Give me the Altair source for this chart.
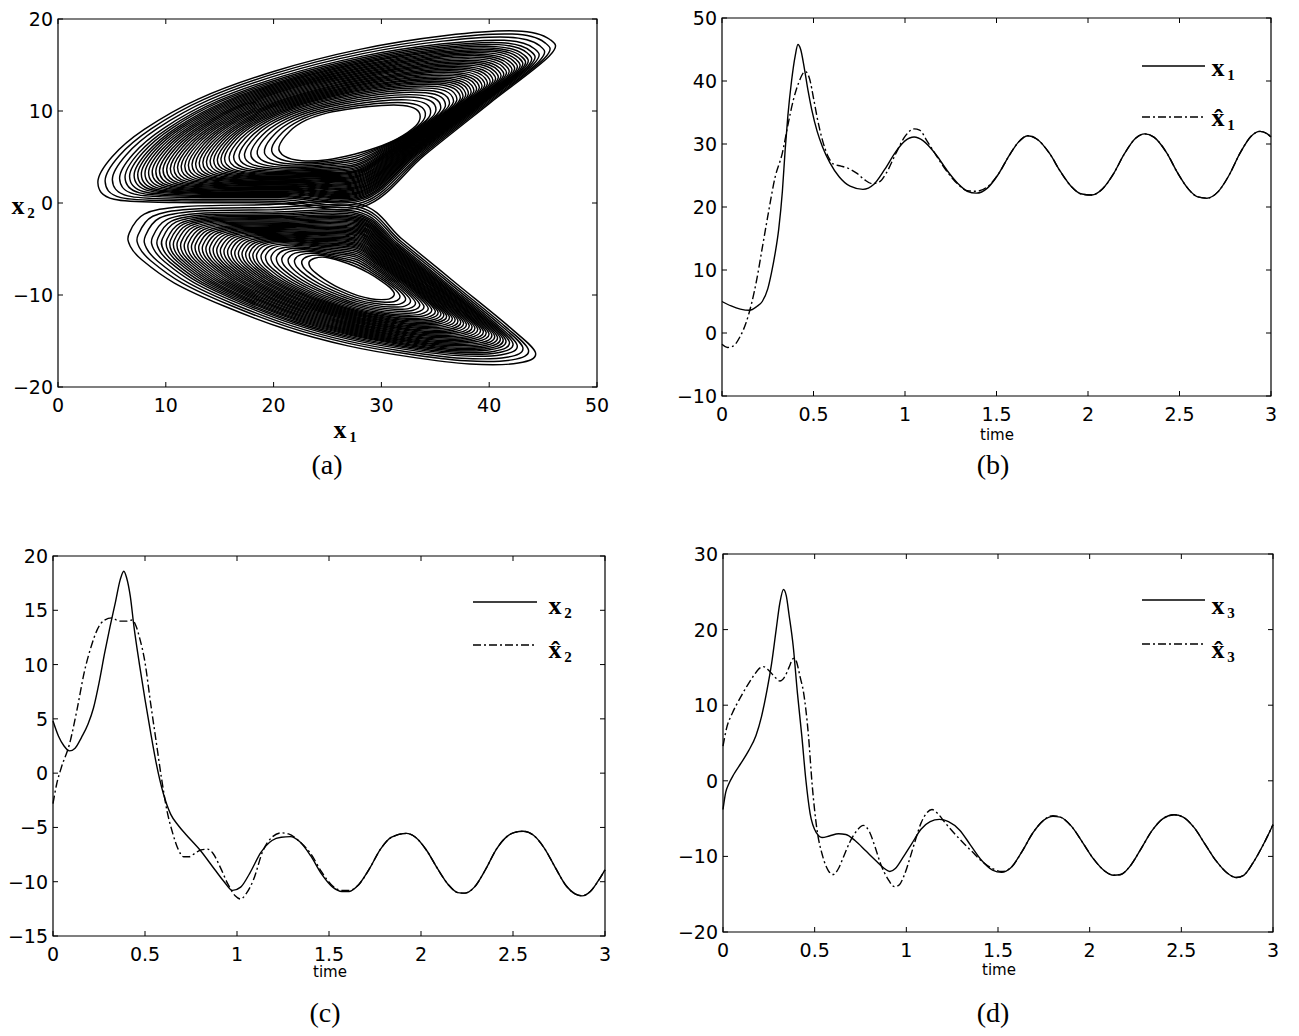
import altair as alt
import pandas as pd

# ---------------- data ----------------
# (a) phase portrait x1-x2: outer contour and inner (hole) contour of each lobe,
#     listed in the same order; the loops of the band lie between them
UP_OUT_X1 = [3.7, 5.0, 8.0, 13.0, 20.0, 28.0, 36.0, 42.5, 45.6, 45.6, 40.0, 34.0, 28.3, 20.0, 11.0, 5.2]
UP_OUT_X2 = [2.2, 5.0, 8.0, 11.3, 14.3, 16.7, 18.2, 18.7, 17.8, 16.0, 10.8, 5.2, -0.4, 0.0, 0.05, 0.4]
UP_IN_X1 = [20.5, 21.5, 23.0, 25.0, 27.5, 30.0, 32.0, 33.2, 33.6, 33.2, 31.5, 29.5, 27.5, 25.0, 22.6, 21.0]
UP_IN_X2 = [6.1, 7.8, 9.0, 9.8, 10.3, 10.6, 10.6, 10.2, 9.4, 8.4, 7.0, 6.0, 5.3, 4.7, 4.6, 5.1]
UP_LOOPS = [0.0, 0.04, 0.08, 0.12, 0.155, 0.19, 0.22, 0.25, 0.275, 0.30, 0.32, 0.34, 0.36, 0.38,
            0.40, 0.42, 0.44, 0.46, 0.48, 0.50, 0.52, 0.54, 0.56, 0.58, 0.60, 0.62, 0.64, 0.66, 0.68,
            0.70, 0.72, 0.74, 0.76, 0.78, 0.80, 0.825, 0.85, 0.88, 0.92, 0.96, 1.0]

LO_OUT_X1 = [6.6, 8.0, 11.6, 19.0, 27.9, 32.0, 37.0, 42.0, 44.3, 42.7, 38.2, 32.5, 26.8, 21.1, 15.4, 10.8, 7.8, 6.7]
LO_OUT_X2 = [-3.3, -1.2, -0.4, -0.2, -0.1, -4.0, -8.8, -13.6, -16.3, -17.4, -17.5, -16.7, -15.5, -13.7, -11.2, -8.7, -6.2, -4.7]
LO_IN_X1 = [23.3, 23.8, 24.8, 26.2, 27.6, 28.8, 29.9, 30.8, 31.2, 30.8, 30.0, 29.0, 27.9, 26.8, 25.7, 24.7, 23.9, 23.4]
LO_IN_X2 = [-6.4, -6.0, -5.9, -6.3, -6.9, -7.6, -8.4, -9.2, -9.9, -10.4, -10.5, -10.4, -10.1, -9.6, -9.0, -8.3, -7.6, -7.0]
LO_LOOPS = [0.0, 0.04, 0.08, 0.115, 0.15, 0.18, 0.21, 0.24, 0.265, 0.29, 0.31, 0.33, 0.35, 0.37,
            0.39, 0.41, 0.43, 0.45, 0.47, 0.49, 0.51, 0.53, 0.55, 0.57, 0.59, 0.61, 0.63, 0.65, 0.67,
            0.69, 0.71, 0.73, 0.75, 0.77, 0.79, 0.815, 0.84, 0.87, 0.91, 0.95, 1.0]

# (b) x1 and its estimate
T_X1 = [0.00, 0.05, 0.10, 0.15, 0.19, 0.22, 0.25, 0.27, 0.29, 0.31, 0.33, 0.345, 0.36, 0.38, 0.40,
        0.415, 0.43, 0.45, 0.47, 0.49, 0.52, 0.55, 0.59, 0.64, 0.70, 0.77, 0.83, 0.89, 0.95, 1.00,
        1.05, 1.10, 1.17, 1.23, 1.29, 1.34, 1.39, 1.45, 1.51, 1.57, 1.62, 1.67, 1.72, 1.79, 1.85,
        1.91, 1.96, 2.02, 2.08, 2.14, 2.20, 2.26, 2.31, 2.36, 2.43, 2.49, 2.55, 2.60, 2.65, 2.71,
        2.77, 2.83, 2.89, 2.94, 2.98, 3.00]
V_X1 = [5.0, 4.3, 3.8, 3.6, 4.2, 5.0, 7.0, 9.5, 12.6, 16.5, 22.5, 29.0, 34.5, 40.0, 44.0,
        45.8, 45.0, 42.0, 38.5, 35.5, 32.0, 29.5, 27.0, 24.8, 23.3, 22.8, 23.6, 26.0, 28.8, 30.5,
        31.1, 30.5, 28.3, 25.8, 23.7, 22.5, 22.2, 23.0, 25.2, 28.2, 30.3, 31.3, 30.8, 28.5, 25.6,
        23.2, 22.1, 21.9, 22.9, 25.3, 28.5, 30.9, 31.6, 31.1, 28.6, 25.4, 22.8, 21.6, 21.4, 22.4,
        25.0, 28.5, 31.2, 32.0, 31.6, 31.1]
T_XH1 = [0.00, 0.03, 0.06, 0.10, 0.13, 0.16, 0.19, 0.22, 0.25, 0.29, 0.33, 0.36, 0.39, 0.42, 0.455,
         0.48, 0.50, 0.52, 0.55, 0.58, 0.61, 0.65, 0.70, 0.74, 0.78, 0.82, 0.86, 0.90, 0.95, 1.00,
         1.05, 1.08, 1.12, 1.17, 1.23, 1.29, 1.34, 1.39, 1.45, 1.51, 1.57, 1.62, 1.67, 1.72, 1.79,
         1.85, 1.91, 1.96, 2.02, 2.08, 2.14, 2.20, 2.26, 2.31, 2.36, 2.43, 2.49, 2.55, 2.60, 2.65,
         2.71, 2.77, 2.83, 2.89, 2.94, 2.98, 3.00]
V_XH1 = [-1.8, -2.3, -2.1, -0.5, 1.5, 4.5, 8.5, 13.5, 18.5, 24.7, 28.6, 33.0, 37.0, 39.8, 41.5,
         40.2, 37.3, 34.2, 30.5, 28.0, 26.8, 26.5, 26.0, 25.3, 24.3, 23.7, 24.0, 25.5, 28.5, 31.2,
         32.4, 32.2, 30.5, 28.2, 25.6, 23.6, 22.6, 22.5, 23.2, 25.2, 28.2, 30.3, 31.3, 30.8, 28.5,
         25.6, 23.2, 22.1, 21.9, 22.9, 25.3, 28.5, 30.9, 31.6, 31.1, 28.6, 25.4, 22.8, 21.6, 21.4,
         22.4, 25.0, 28.5, 31.2, 32.0, 31.6, 31.1]

# (c) x2 and its estimate
T_X2 = [0.00, 0.03, 0.06, 0.09, 0.12, 0.155, 0.19, 0.22, 0.25, 0.28, 0.31, 0.34, 0.365, 0.385, 0.40,
        0.42, 0.44, 0.47, 0.50, 0.53, 0.56, 0.60, 0.64, 0.68, 0.72, 0.80, 0.88, 0.93, 0.976, 1.02,
        1.07, 1.13, 1.19, 1.24, 1.29, 1.34, 1.40, 1.46, 1.52, 1.57, 1.61, 1.66, 1.72, 1.78, 1.84,
        1.92, 1.97, 2.03, 2.09, 2.15, 2.20, 2.24, 2.29, 2.35, 2.41, 2.47, 2.51, 2.556, 2.61, 2.67,
        2.73, 2.79, 2.84, 2.875, 2.92, 2.96, 3.00]
V_X2 = [4.8, 3.4, 2.5, 2.05, 2.3, 3.3, 4.5, 6.0, 8.3, 11.0, 13.5, 15.8, 17.8, 18.6, 18.0,
        16.3, 13.5, 10.0, 6.8, 3.8, 1.0, -1.9, -3.8, -4.8, -5.6, -7.1, -8.9, -10.0, -10.8, -10.5,
        -9.2, -7.3, -6.2, -5.9, -5.85, -6.3, -7.6, -9.3, -10.5, -10.9, -10.9, -10.3, -8.8, -7.0, -5.9,
        -5.55, -5.9, -7.1, -8.8, -10.3, -11.0, -11.05, -10.5, -8.9, -7.0, -5.8, -5.45, -5.35, -5.7, -6.9,
        -8.7, -10.4, -11.15, -11.3, -10.9, -10.0, -8.9]
T_XH2 = [0.00, 0.02, 0.045, 0.09, 0.13, 0.17, 0.21, 0.24, 0.28, 0.32, 0.36, 0.40, 0.43, 0.45, 0.47,
         0.50, 0.53, 0.56, 0.59, 0.62, 0.65, 0.68, 0.71, 0.74, 0.77, 0.80, 0.84, 0.87, 0.91, 0.95,
         0.99, 1.02, 1.05, 1.09, 1.14, 1.19, 1.24, 1.28, 1.34, 1.40, 1.46, 1.52, 1.57, 1.61, 1.66,
         1.72, 1.78, 1.84, 1.92, 1.97, 2.03, 2.09, 2.15, 2.20, 2.24, 2.29, 2.35, 2.41, 2.47, 2.51,
         2.556, 2.61, 2.67, 2.73, 2.79, 2.84, 2.875, 2.92, 2.96, 3.00]
V_XH2 = [-2.8, -1.0, 0.5, 2.7, 5.8, 9.3, 11.8, 13.2, 14.1, 14.3, 14.0, 14.0, 14.1, 13.6, 12.5,
         10.2, 6.5, 3.0, -0.5, -3.5, -5.5, -7.0, -7.7, -7.7, -7.4, -7.1, -7.0, -7.4, -8.7, -10.2,
         -11.3, -11.6, -11.1, -9.8, -7.2, -5.9, -5.5, -5.6, -6.3, -7.4, -9.1, -10.4, -10.8, -10.8, -10.3,
         -8.8, -7.0, -5.9, -5.55, -5.9, -7.1, -8.8, -10.3, -11.0, -11.05, -10.5, -8.9, -7.0, -5.8, -5.45,
         -5.35, -5.7, -6.9, -8.7, -10.4, -11.15, -11.3, -10.9, -10.0, -8.9]

# (d) x3 and its estimate
T_X3 = [0.00, 0.015, 0.03, 0.06, 0.10, 0.14, 0.18, 0.21, 0.24, 0.265, 0.29, 0.31, 0.33, 0.345, 0.36,
        0.383, 0.406, 0.43, 0.452, 0.475, 0.51, 0.54, 0.58, 0.63, 0.67, 0.72, 0.78, 0.84, 0.88, 0.91,
        0.94, 0.98, 1.03, 1.08, 1.13, 1.18, 1.23, 1.29, 1.35, 1.41, 1.47, 1.52, 1.57, 1.63, 1.69,
        1.75, 1.80, 1.84, 1.90, 1.96, 2.02, 2.08, 2.13, 2.17, 2.22, 2.28, 2.34, 2.40, 2.46, 2.51,
        2.57, 2.63, 2.69, 2.75, 2.80, 2.84, 2.89, 2.95, 3.00]
V_X3 = [-3.8, -1.5, -0.5, 0.9, 2.4, 4.0, 6.0, 8.5, 12.0, 15.5, 20.0, 23.5, 25.3, 24.5, 22.0,
        17.8, 11.6, 5.9, 0.1, -4.3, -6.9, -7.5, -7.3, -7.0, -7.1, -7.9, -9.3, -10.7, -11.6, -12.0,
        -11.6, -10.2, -8.3, -6.4, -5.4, -5.1, -5.4, -6.5, -8.5, -10.5, -11.8, -12.1, -11.5, -9.4, -6.9,
        -5.2, -4.7, -4.8, -6.0, -8.1, -10.3, -11.9, -12.5, -12.4, -11.3, -9.0, -6.6, -5.0, -4.5, -4.8,
        -6.2, -8.4, -10.6, -12.2, -12.8, -12.5, -10.9, -8.3, -5.8]
T_XH3 = [0.00, 0.02, 0.05, 0.09, 0.13, 0.17, 0.20, 0.22, 0.25, 0.28, 0.31, 0.34, 0.36, 0.385, 0.40,
         0.42, 0.44, 0.465, 0.487, 0.51, 0.544, 0.575, 0.60, 0.63, 0.65, 0.69, 0.73, 0.765, 0.80, 0.83,
         0.86, 0.90, 0.935, 0.96, 0.99, 1.02, 1.05, 1.08, 1.11, 1.14, 1.17, 1.21, 1.26, 1.31, 1.36,
         1.41, 1.47, 1.52, 1.57, 1.63, 1.69, 1.75, 1.80, 1.84, 1.90, 1.96, 2.02, 2.08, 2.13, 2.17,
         2.22, 2.28, 2.34, 2.40, 2.46, 2.51, 2.57, 2.63, 2.69, 2.75, 2.80, 2.84, 2.89, 2.95, 3.00]
V_XH3 = [4.6, 7.0, 8.9, 10.8, 12.5, 14.0, 14.9, 15.1, 14.6, 13.8, 13.2, 13.9, 15.0, 16.2, 15.8,
         13.8, 11.6, 6.3, -0.7, -6.0, -10.0, -11.9, -12.4, -11.6, -10.5, -8.2, -6.6, -5.9, -6.8, -8.8,
         -11.0, -13.0, -14.0, -13.8, -12.4, -10.2, -7.8, -5.6, -4.3, -3.8, -4.3, -5.5, -6.9, -8.2, -9.4,
         -10.6, -11.6, -12.0, -11.5, -9.4, -6.9, -5.2, -4.6, -4.8, -6.0, -8.1, -10.3, -11.9, -12.5, -12.4,
         -11.3, -9.0, -6.6, -5.0, -4.5, -4.8, -6.2, -8.4, -10.6, -12.2, -12.8, -12.5, -10.9, -8.3, -5.8]

# axis tick values
A_XT = [0, 10, 20, 30, 40, 50]
A_YT = [-20, -10, 0, 10, 20]
T_XT = [0, 0.5, 1, 1.5, 2, 2.5, 3]
B_YT = [-10, 0, 10, 20, 30, 40, 50]
C_YT = [-15, -10, -5, 0, 5, 10, 15, 20]
D_YT = [-20, -10, 0, 10, 20, 30]

# ---------------- layout (page pixels of the reference) ----------------
M = 8
W, H = 1283, 1020
SERIF = "Liberation Serif"
SANS = "DejaVu Sans"
TICK = 5
LABEL_SIZE = 19
DASHDOT = [8, 3, 2, 3]

PANELS = {
    "a": dict(l=58, r=597, t=19, b=387, xd=[0, 50], yd=[-20, 20], xt=A_XT, yt=A_YT),
    "b": dict(l=722, r=1271, t=18, b=396, xd=[0, 3], yd=[-10, 50], xt=T_XT, yt=B_YT),
    "c": dict(l=53, r=605, t=556, b=936, xd=[0, 3], yd=[-15, 20], xt=T_XT, yt=C_YT),
    "d": dict(l=723, r=1273, t=554, b=932, xd=[0, 3], yd=[-20, 30], xt=T_XT, yt=D_YT),
}

ONE = pd.DataFrame({"k": [0]})


def fmt(v):
    s = f"{abs(v):g}"
    return "\u2212" + s if v < 0 else s


def scales(p):
    xs = alt.Scale(domain=p["xd"], range=[p["l"] - M, p["r"] - M], nice=False, zero=False)
    ys = alt.Scale(domain=p["yd"], range=[p["b"] - M, p["t"] - M], nice=False, zero=False)
    return xs, ys


def frame_layers(p):
    xs, ys = scales(p)
    fr = pd.DataFrame({"xa": [p["xd"][0]], "xb": [p["xd"][1]], "ya": [p["yd"][0]], "yb": [p["yd"][1]]})
    frame = alt.Chart(fr).mark_rect(fill="white", fillOpacity=0, stroke="black", strokeWidth=1.2).encode(
        x=alt.X("xa:Q", scale=xs, axis=None), x2="xb:Q",
        y=alt.Y("ya:Q", scale=ys, axis=None), y2="yb:Q")
    xtk = pd.DataFrame({"v": p["xt"], "lab": [fmt(v) for v in p["xt"]]})
    ytk = pd.DataFrame({"v": p["yt"], "lab": [fmt(v) for v in p["yt"]]})
    rule = dict(color="black", strokeWidth=1)
    bot = alt.Chart(xtk).mark_rule(**rule).encode(
        x=alt.X("v:Q", scale=xs, axis=None), y=alt.value(p["b"] - M), y2=alt.value(p["b"] - M - TICK))
    top = alt.Chart(xtk).mark_rule(**rule).encode(
        x=alt.X("v:Q", scale=xs, axis=None), y=alt.value(p["t"] - M), y2=alt.value(p["t"] - M + TICK))
    lef = alt.Chart(ytk).mark_rule(**rule).encode(
        y=alt.Y("v:Q", scale=ys, axis=None), x=alt.value(p["l"] - M), x2=alt.value(p["l"] - M + TICK))
    rig = alt.Chart(ytk).mark_rule(**rule).encode(
        y=alt.Y("v:Q", scale=ys, axis=None), x=alt.value(p["r"] - M), x2=alt.value(p["r"] - M - TICK))
    xlab = alt.Chart(xtk).mark_text(font=SANS, fontSize=LABEL_SIZE, align="center", baseline="middle",
                                    color="black").encode(
        x=alt.X("v:Q", scale=xs, axis=None), y=alt.value(p["b"] - M + 19), text="lab:N")
    ylab = alt.Chart(ytk).mark_text(font=SANS, fontSize=LABEL_SIZE, align="right", baseline="middle",
                                    color="black", dy=1).encode(
        y=alt.Y("v:Q", scale=ys, axis=None), x=alt.value(p["l"] - M - 5), text="lab:N")
    return [frame, bot, top, lef, rig, xlab, ylab]


def series_layer(p, t, v, dashed):
    xs, ys = scales(p)
    df = pd.DataFrame({"t": t, "v": v})
    kw = dict(color="black", strokeWidth=1.4, interpolate="monotone", clip=True)
    if dashed:
        kw["strokeDash"] = DASHDOT
    return alt.Chart(df).mark_line(**kw).encode(
        x=alt.X("t:Q", scale=xs, axis=None), y=alt.Y("v:Q", scale=ys, axis=None))


# ---- panel (a) ----
rows = []
for name, ox, oy, ix, iy, ws in [("u", UP_OUT_X1, UP_OUT_X2, UP_IN_X1, UP_IN_X2, UP_LOOPS),
                                  ("l", LO_OUT_X1, LO_OUT_X2, LO_IN_X1, LO_IN_X2, LO_LOOPS)]:
    for k, w in enumerate(ws):
        for i in range(len(ox)):
            rows.append({"x1": ix[i] + w * (ox[i] - ix[i]), "x2": iy[i] + w * (oy[i] - iy[i]),
                         "loop": f"{name}{k}", "i": i})
att = pd.DataFrame(rows)
pa = PANELS["a"]
xsa, ysa = scales(pa)
attractor = alt.Chart(att).mark_line(color="black", strokeWidth=1.45, interpolate="cardinal-closed").encode(
    x=alt.X("x1:Q", scale=xsa, axis=None), y=alt.Y("x2:Q", scale=ysa, axis=None),
    detail="loop:N", order="i:Q")
panel_a = alt.layer(attractor, *frame_layers(pa))

panel_b = alt.layer(series_layer(PANELS["b"], T_X1, V_X1, False),
                    series_layer(PANELS["b"], T_XH1, V_XH1, True), *frame_layers(PANELS["b"]))
panel_c = alt.layer(series_layer(PANELS["c"], T_X2, V_X2, False),
                    series_layer(PANELS["c"], T_XH2, V_XH2, True), *frame_layers(PANELS["c"]))
panel_d = alt.layer(series_layer(PANELS["d"], T_X3, V_X3, False),
                    series_layer(PANELS["d"], T_XH3, V_XH3, True), *frame_layers(PANELS["d"]))


def txt(s, x, y, size, font=SERIF, weight="bold"):
    return alt.Chart(ONE).mark_text(text=s, font=font, fontSize=size, fontWeight=weight, align="center",
                                    baseline="middle", color="black").encode(
        x=alt.value(x - M), y=alt.value(y - M))


def leg(x0, x1, y, dashed):
    kw = dict(color="black", strokeWidth=1.4)
    if dashed:
        kw["strokeDash"] = DASHDOT
    return alt.Chart(ONE).mark_rule(**kw).encode(x=alt.value(x0 - M), x2=alt.value(x1 - M), y=alt.value(y - M))


def xsym(x, y, sub, hat=False):
    main = "x\u0302" if hat else "x"
    return [txt(main, x, y, 26), txt(sub, x + 13, y + 7, 15)]


annotations = []
annotations += xsym(340, 430, "1") + xsym(18, 206, "2")
annotations += [txt("(a)", 327, 466, 28, weight="normal"), txt("(b)", 993, 466, 28, weight="normal"),
                txt("(c)", 325, 1014, 28, weight="normal"), txt("(d)", 993, 1014, 28, weight="normal")]
annotations += [txt("time", 997, 435, 15, font=SANS, weight="normal"),
                txt("time", 330, 972, 15, font=SANS, weight="normal"),
                txt("time", 999, 970, 15, font=SANS, weight="normal")]
# legends
annotations += [leg(1142, 1205, 66, False), leg(1142, 1205, 117, True)]
annotations += xsym(1218, 68, "1") + xsym(1218, 118, "1", hat=True)
annotations += [leg(473, 537, 602, False), leg(473, 537, 645, True)]
annotations += xsym(555, 606, "2") + xsym(555, 650, "2", hat=True)
annotations += [leg(1142, 1205, 600, False), leg(1142, 1205, 644, True)]
annotations += xsym(1218, 606, "3") + xsym(1218, 650, "3", hat=True)

chart = alt.layer(panel_a, panel_b, panel_c, panel_d, *annotations).resolve_scale(
    x="independent", y="independent"
).properties(width=W, height=H, padding=0, autosize="none", background="white").configure_view(stroke=None)

chart.save("out.html", embed_options={"renderer": "svg", "actions": False})
